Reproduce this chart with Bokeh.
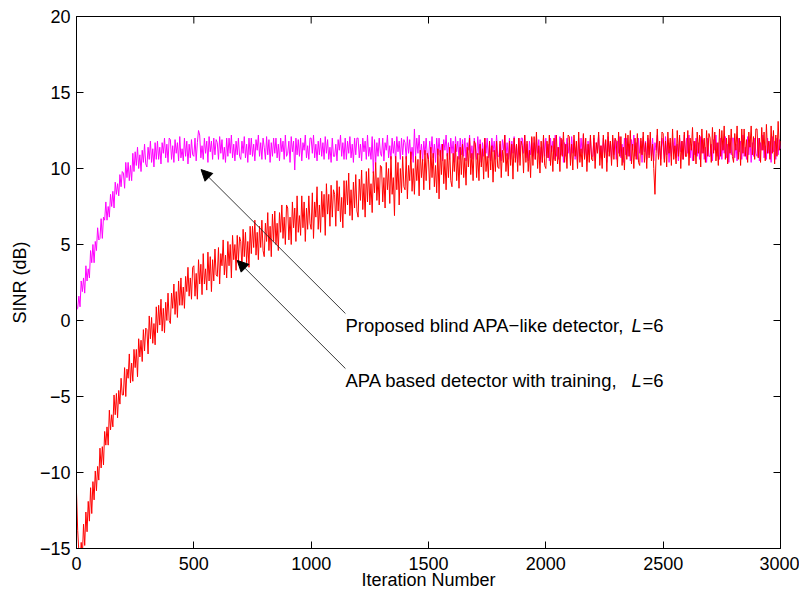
import math
from bokeh.plotting import figure
from bokeh.models import Range1d, FixedTicker, Label, Arrow, NormalHead
from bokeh.embed import file_html
from bokeh.resources import INLINE

# ---------------- data ----------------
iterations = list(range(0, 3001, 5))

# Proposed blind APA-like detector, L=6 (magenta)
blind_sinr = [
    0.7, 0.8, 1.6, 0.9, 2.6, 1.9, 2.8, 1.8, 3.6, 2.6, 3.4, 2.8, 4.6, 3.8, 5.0, 3.8, 5.2, 4.6, 6.1, 5.3,
    5.4, 6.7, 5.4, 6.8, 6.6, 7.8, 6.6, 7.5, 6.8, 8.3, 7.5, 8.5, 7.4, 9.1, 8.3, 9.0, 8.2, 9.6, 8.8, 9.8,
    9.7, 8.7, 10.4, 9.4, 10.4, 9.2, 10.2, 9.2, 11.0, 9.8, 11.1, 10.2, 11.4, 10.0, 10.9, 9.8, 11.2, 10.4, 11.6, 10.3,
    10.1, 11.4, 10.6, 11.8, 10.4, 11.3, 10.1, 11.7, 10.6, 11.8, 10.6, 11.4, 10.3, 11.7, 11.0, 12.0, 10.7, 11.6, 10.4, 12.0,
    11.9, 10.6, 11.5, 10.4, 11.9, 11.0, 11.7, 10.5, 12.1, 10.7, 11.3, 10.5, 12.0, 10.8, 11.8, 10.3, 11.6, 10.7, 11.9, 10.9,
    10.8, 12.0, 10.5, 11.7, 12.5, 12.2, 10.7, 11.5, 10.6, 12.0, 11.0, 11.8, 10.4, 12.1, 11.1, 11.8, 10.6, 12.0, 10.9, 11.9,
    11.7, 10.6, 12.1, 11.0, 11.9, 10.6, 11.4, 10.4, 12.0, 10.8, 12.0, 11.0, 12.2, 10.7, 11.6, 10.5, 11.8, 10.9, 12.0, 10.8,
    10.6, 11.8, 11.0, 12.1, 10.7, 11.6, 10.4, 12.0, 10.9, 12.0, 10.8, 11.6, 10.5, 11.9, 11.2, 12.2, 10.8, 11.7, 10.6, 12.0,
    11.4, 10.6, 12.1, 10.9, 11.9, 10.4, 11.7, 10.8, 12.0, 11.0, 12.0, 10.7, 11.6, 10.5, 12.0, 11.1, 11.8, 10.6, 12.2, 10.8,
    11.0, 11.8, 10.4, 12.1, 11.1, 11.8, 9.9, 12.0, 10.9, 11.9, 10.8, 12.0, 10.5, 11.7, 11.2, 12.2, 10.7, 11.5, 10.6, 12.0,
    12.0, 11.0, 12.2, 10.7, 11.6, 10.5, 11.8, 10.9, 12.0, 10.8, 11.7, 10.6, 12.1, 11.0, 11.9, 10.6, 11.4, 10.4, 12.0, 10.8,
    10.8, 11.6, 10.5, 11.9, 11.2, 12.2, 10.8, 11.7, 10.6, 12.0, 10.6, 11.8, 11.0, 12.1, 10.7, 11.6, 10.4, 12.0, 10.9, 12.0,
    12.0, 10.7, 11.6, 10.5, 12.0, 11.1, 11.8, 10.6, 12.2, 10.8, 11.4, 10.6, 12.1, 9.7, 11.9, 10.4, 11.7, 10.8, 12.0, 11.0,
    10.8, 12.0, 10.5, 11.7, 11.2, 12.2, 10.7, 11.5, 10.6, 12.0, 11.0, 11.8, 10.4, 12.1, 11.1, 11.8, 10.6, 12.0, 10.9, 11.9,
    11.7, 10.6, 12.1, 11.0, 11.9, 10.6, 11.4, 10.4, 12.6, 10.8, 12.0, 11.0, 12.2, 10.7, 11.6, 10.5, 11.8, 10.9, 12.0, 10.8,
    10.6, 11.8, 11.0, 12.1, 10.7, 11.6, 10.4, 12.0, 10.9, 12.0, 10.8, 11.6, 10.5, 11.9, 11.2, 12.2, 10.8, 11.7, 10.6, 12.0,
    11.0, 11.8, 10.4, 12.1, 11.1, 11.8, 10.6, 12.0, 10.9, 11.9, 10.8, 12.0, 10.5, 11.7, 11.2, 12.2, 10.7, 11.5, 10.6, 12.0,
    11.4, 10.6, 12.1, 10.9, 11.9, 10.4, 11.7, 10.8, 12.0, 11.0, 12.0, 10.7, 11.6, 10.5, 12.0, 11.1, 11.8, 10.6, 12.2, 10.8,
    10.8, 11.6, 10.5, 11.9, 11.2, 12.2, 10.8, 11.7, 10.6, 12.0, 10.6, 11.8, 11.0, 12.1, 10.7, 11.6, 10.4, 12.0, 10.9, 12.0,
    12.0, 11.0, 12.2, 10.7, 11.6, 10.5, 11.8, 10.9, 12.0, 10.8, 11.7, 10.6, 12.1, 11.0, 11.9, 10.6, 11.4, 10.4, 12.0, 10.8,
    12.0, 10.7, 11.6, 10.5, 12.0, 11.1, 11.8, 10.6, 12.2, 10.8, 11.4, 10.6, 12.1, 10.9, 11.9, 10.4, 11.7, 10.8, 12.0, 11.0,
    11.7, 10.6, 12.1, 11.0, 11.9, 10.6, 11.4, 10.4, 12.0, 10.8, 12.0, 11.0, 12.2, 10.7, 11.6, 10.5, 11.8, 10.9, 12.0, 10.8,
    10.8, 12.0, 10.5, 11.7, 11.2, 12.2, 10.7, 11.5, 10.6, 12.0, 11.0, 11.8, 10.4, 12.1, 11.1, 11.8, 10.6, 12.0, 10.9, 11.9,
    10.6, 11.8, 11.0, 12.1, 10.7, 11.6, 10.4, 12.0, 10.9, 12.0, 10.8, 11.6, 10.5, 11.9, 11.2, 12.2, 10.8, 11.7, 10.6, 12.0,
    11.0, 11.8, 10.4, 12.1, 11.1, 11.8, 10.6, 12.0, 10.9, 11.9, 10.8, 12.0, 10.5, 11.7, 11.2, 12.2, 10.7, 11.5, 10.6, 12.0,
    11.4, 10.6, 12.1, 10.9, 11.9, 10.4, 11.7, 10.8, 12.0, 11.0, 12.0, 10.7, 11.6, 10.5, 12.0, 11.1, 11.8, 10.6, 12.2, 10.8,
    12.0, 11.0, 12.2, 10.7, 11.6, 10.5, 11.8, 10.9, 12.0, 10.8, 11.7, 10.6, 12.1, 11.0, 11.9, 10.6, 11.4, 10.4, 12.0, 10.8,
    10.8, 11.6, 10.5, 11.9, 11.2, 12.2, 10.8, 11.7, 10.6, 12.0, 10.6, 11.8, 11.0, 12.1, 10.7, 11.6, 10.4, 12.0, 10.9, 12.0,
    12.0, 10.7, 11.6, 10.5, 12.0, 11.1, 11.8, 10.6, 12.2, 10.8, 11.4, 10.6, 12.1, 10.9, 11.9, 10.4, 11.7, 10.8, 12.0, 11.0,
    10.8, 12.0, 10.5, 11.7, 11.2, 12.2, 10.7, 11.5, 10.6, 12.0, 11.0, 11.8, 10.4, 12.1, 11.1, 11.8, 10.6, 12.0, 10.9, 11.9,
    11.3,
]

# APA based detector with training, L=6 (red)
training_sinr = [
    -11.3, -13.8, -15.2, -16.0, -14.6, -15.5, -13.4, -14.8, -12.6, -13.9, -11.9, -13.2, -11.0, -12.7, -10.6, -11.8, -9.9, -11.2, -9.6, -10.5,
    -8.4, -9.7, -8.3, -9.5, -7.3, -8.2, -7.0, -8.2, -5.9, -7.2, -6.2, -7.0, -4.9, -6.2, -4.8, -6.4, -4.6, -5.5, -3.8, -4.9,
    -4.9, -3.1, -5.0, -3.2, -3.8, -2.2, -4.1, -2.8, -4.0, -1.9, -3.1, -1.9, -3.7, -1.2, -2.4, -1.3, -2.7, -0.6, -2.0, -0.5,
    -0.6, -2.2, 0.3, -1.2, 0.2, -1.5, -0.2, -1.6, 0.9, -0.8, 1.0, -0.3, 1.4, -0.7, 0.8, -0.8, 1.2, 0.0, 1.8, 0.0,
    -0.2, 1.8, 0.8, 2.4, 0.4, 1.9, 0.2, 2.6, 1.0, 2.8, 1.0, 2.2, 0.8, 2.9, 1.9, 3.5, 1.6, 2.8, 1.4, 3.5,
    3.6, 1.6, 3.1, 1.4, 4.0, 2.4, 3.7, 1.7, 4.4, 2.4, 3.4, 2.0, 4.5, 2.6, 4.2, 1.9, 4.0, 2.6, 4.7, 3.0,
    2.9, 4.8, 2.4, 4.4, 3.6, 5.3, 3.0, 4.3, 2.8, 5.2, 3.6, 5.0, 2.8, 5.6, 4.0, 5.0, 3.3, 5.6, 3.9, 5.5,
    5.2, 3.4, 6.0, 4.2, 5.8, 3.8, 5.2, 3.5, 6.2, 4.4, 6.2, 4.8, 6.6, 4.3, 5.8, 4.0, 6.2, 4.8, 6.6, 4.6,
    4.2, 6.4, 5.2, 7.1, 4.6, 6.2, 4.2, 7.0, 5.2, 7.2, 5.0, 6.4, 4.6, 7.1, 5.8, 7.6, 5.4, 6.8, 5.0, 7.6,
    7.4, 5.3, 6.8, 5.0, 7.8, 6.1, 7.4, 5.2, 8.2, 5.8, 6.9, 5.6, 8.2, 6.1, 7.8, 5.2, 7.4, 6.0, 8.2, 6.4,
    6.0, 8.4, 5.4, 7.8, 6.8, 8.8, 6.0, 7.6, 5.8, 8.5, 6.8, 8.3, 5.6, 9.0, 7.0, 8.3, 6.2, 8.9, 6.8, 8.6,
    8.3, 6.2, 9.2, 7.2, 8.8, 6.5, 8.1, 6.1, 9.2, 7.0, 9.2, 7.6, 9.7, 6.9, 8.6, 6.6, 9.1, 7.4, 9.6, 7.2,
    6.8, 9.3, 7.9, 9.9, 7.3, 9.0, 6.8, 9.8, 7.8, 10.0, 7.6, 9.0, 7.1, 9.8, 8.4, 10.4, 7.9, 9.4, 7.6, 10.2,
    10.1, 7.8, 9.4, 7.4, 10.4, 8.6, 10.0, 7.7, 10.8, 8.3, 9.4, 6.9, 10.8, 8.6, 10.4, 7.6, 10.0, 8.4, 10.8, 8.8,
    8.6, 10.8, 8.0, 10.2, 9.2, 11.1, 8.5, 10.0, 8.3, 10.8, 9.2, 10.6, 8.2, 11.2, 9.4, 10.6, 8.6, 11.2, 9.2, 11.0,
    10.6, 8.6, 11.4, 9.4, 11.0, 8.8, 10.2, 8.4, 11.3, 8.0, 11.2, 9.6, 11.6, 9.0, 10.6, 8.6, 11.0, 9.4, 11.4, 9.2,
    8.8, 11.0, 9.8, 11.6, 9.2, 10.8, 8.7, 11.4, 9.6, 11.6, 9.4, 10.7, 8.9, 11.4, 10.1, 12.0, 9.6, 11.0, 9.2, 11.8,
    11.6, 9.4, 11.0, 9.2, 11.6, 10.1, 11.3, 9.3, 12.0, 9.8, 10.8, 9.4, 11.8, 9.9, 11.5, 9.1, 11.2, 9.8, 11.8, 10.1,
    10.0, 11.8, 9.4, 11.2, 10.4, 12.2, 9.8, 11.0, 9.5, 11.8, 10.2, 11.6, 9.3, 12.0, 10.4, 11.6, 9.8, 12.0, 10.2, 11.8,
    11.5, 9.7, 12.2, 10.4, 11.8, 9.8, 11.2, 9.4, 12.1, 10.2, 12.1, 10.6, 12.4, 10.0, 11.5, 9.7, 11.8, 10.4, 12.2, 10.2,
    10.0, 11.8, 10.7, 12.2, 10.2, 11.5, 9.8, 12.0, 10.5, 12.2, 10.3, 11.4, 9.8, 12.0, 10.8, 12.4, 10.4, 11.6, 10.0, 12.2,
    12.1, 10.2, 11.6, 9.9, 12.2, 10.8, 11.8, 10.0, 12.4, 10.4, 11.3, 10.1, 12.3, 10.6, 12.0, 9.8, 11.6, 10.4, 12.2, 10.6,
    10.5, 12.2, 10.0, 11.7, 11.0, 12.4, 10.2, 11.5, 10.0, 12.2, 10.7, 11.9, 9.8, 12.4, 10.8, 11.8, 10.2, 12.2, 10.6, 12.0,
    11.8, 10.1, 12.4, 10.8, 12.1, 10.2, 11.4, 9.9, 12.3, 10.6, 12.2, 10.8, 12.5, 10.3, 11.6, 10.0, 12.0, 10.6, 12.3, 10.4,
    10.2, 12.0, 10.9, 12.4, 10.4, 11.7, 10.0, 12.2, 10.7, 12.4, 10.5, 11.6, 10.0, 8.3, 11.0, 12.6, 10.6, 11.8, 10.2, 12.4,
    12.3, 10.4, 11.8, 10.1, 12.4, 11.0, 12.0, 10.2, 12.6, 10.6, 11.5, 10.3, 12.5, 10.8, 12.2, 10.0, 11.8, 10.6, 12.4, 10.8,
    10.8, 12.5, 10.2, 12.0, 11.2, 12.7, 10.5, 11.8, 10.3, 12.4, 11.0, 12.2, 10.1, 12.6, 11.0, 12.0, 10.4, 12.5, 10.8, 12.3,
    12.0, 10.4, 12.7, 11.0, 12.4, 10.5, 11.7, 10.2, 12.6, 10.8, 12.5, 11.2, 12.8, 10.6, 12.0, 10.3, 12.2, 11.0, 12.6, 10.8,
    10.4, 12.3, 11.2, 12.8, 10.6, 12.0, 10.2, 12.6, 11.0, 12.6, 10.8, 11.9, 10.4, 12.4, 11.4, 12.8, 10.9, 12.1, 10.6, 12.6,
    12.6, 10.7, 12.0, 10.4, 12.7, 11.2, 12.4, 10.5, 12.9, 11.0, 11.8, 10.6, 12.8, 11.0, 12.5, 10.3, 12.2, 10.8, 13.1, 11.2,
    11.8,
]

x_ticks = [0, 500, 1000, 1500, 2000, 2500, 3000]
y_ticks = [-15, -10, -5, 0, 5, 10, 15, 20]
y_tick_labels = ["\u221215", "\u221210", "\u22125", "0", "5", "10", "15", "20"]

blind_label = "Proposed blind APA\u2212like detector,"
training_label = "APA based detector with training,"

# annotation anchor points (data units)
blind_arrow_tip = (531, 9.93)
blind_arrow_tail = (1146, 0.46)
training_arrow_tip = (685, 3.95)
training_arrow_tail = (1146, -3.16)
blind_text_pos = (1146, -0.33)
training_text_pos = (1146, -3.95)

# ---------------- figure ----------------
FONT = "Liberation Sans"
TICK_SIZE = "18px"

p = figure(width=799, height=594,
           x_range=Range1d(0, 3000), y_range=Range1d(-15, 20),
           output_backend="svg", toolbar_location=None,
           min_border_left=76, min_border_right=19,
           min_border_top=16, min_border_bottom=46,
           x_axis_label="Iteration Number", y_axis_label="SINR (dB)")
p.grid.visible = False
p.outline_line_color = "black"
p.outline_line_width = 1
p.background_fill_color = "white"
p.border_fill_color = "white"

for ax in p.xaxis:
    ax.ticker = FixedTicker(ticks=x_ticks)
for ax in p.yaxis:
    ax.ticker = FixedTicker(ticks=y_ticks)
    ax.major_label_overrides = {t: s for t, s in zip(y_ticks, y_tick_labels)}

for ax in list(p.xaxis) + list(p.yaxis):
    ax.major_tick_in = 7
    ax.major_tick_out = 0
    ax.minor_tick_line_color = None
    ax.axis_line_color = "black"
    ax.major_tick_line_color = "black"
    ax.major_label_text_font = FONT
    ax.major_label_text_font_size = TICK_SIZE
    ax.major_label_text_color = "black"
    ax.axis_label_text_font = FONT
    ax.axis_label_text_font_size = TICK_SIZE
    ax.axis_label_text_font_style = "normal"
    ax.axis_label_text_color = "black"

p.xaxis.major_label_standoff = 8
p.xaxis.axis_label_standoff = -3
p.yaxis.major_label_standoff = 6
p.yaxis.axis_label_standoff = 7

# inward ticks on the top and right edges of the box (half of each mark is clipped by the frame)
p.scatter(x_ticks, [y_ticks[-1]] * len(x_ticks), marker="dash", size=14, angle=math.pi / 2,
          line_color="black", line_width=1)
p.scatter([x_ticks[-1]] * len(y_ticks), y_ticks, marker="dash", size=14,
          line_color="black", line_width=1)

p.line(iterations, blind_sinr, line_color="#FF00FF", line_width=1)
p.line(iterations, training_sinr, line_color="#FF0000", line_width=1)

for tail, tip in [(blind_arrow_tail, blind_arrow_tip), (training_arrow_tail, training_arrow_tip)]:
    p.add_layout(Arrow(end=NormalHead(size=11, fill_color="black", line_color="black", line_width=1),
                       x_start=tail[0], y_start=tail[1], x_end=tip[0], y_end=tip[1],
                       line_color="#222222", line_width=0.9))

ANN_SIZE = "18.5px"
for (tx, ty), txt in [(blind_text_pos, blind_label), (training_text_pos, training_label)]:
    p.add_layout(Label(x=tx, y=ty, text=txt, text_font=FONT, text_font_size=ANN_SIZE,
                       text_baseline="middle", text_color="black"))
    p.add_layout(Label(x=tx, y=ty, x_offset=286, text="L", text_font=FONT, text_font_size=ANN_SIZE,
                       text_font_style="italic", text_baseline="middle", text_color="black"))
    p.add_layout(Label(x=tx, y=ty, x_offset=297, text="=6", text_font=FONT, text_font_size=ANN_SIZE,
                       text_baseline="middle", text_color="black"))

open("out.html", "w").write(file_html(p, INLINE))
